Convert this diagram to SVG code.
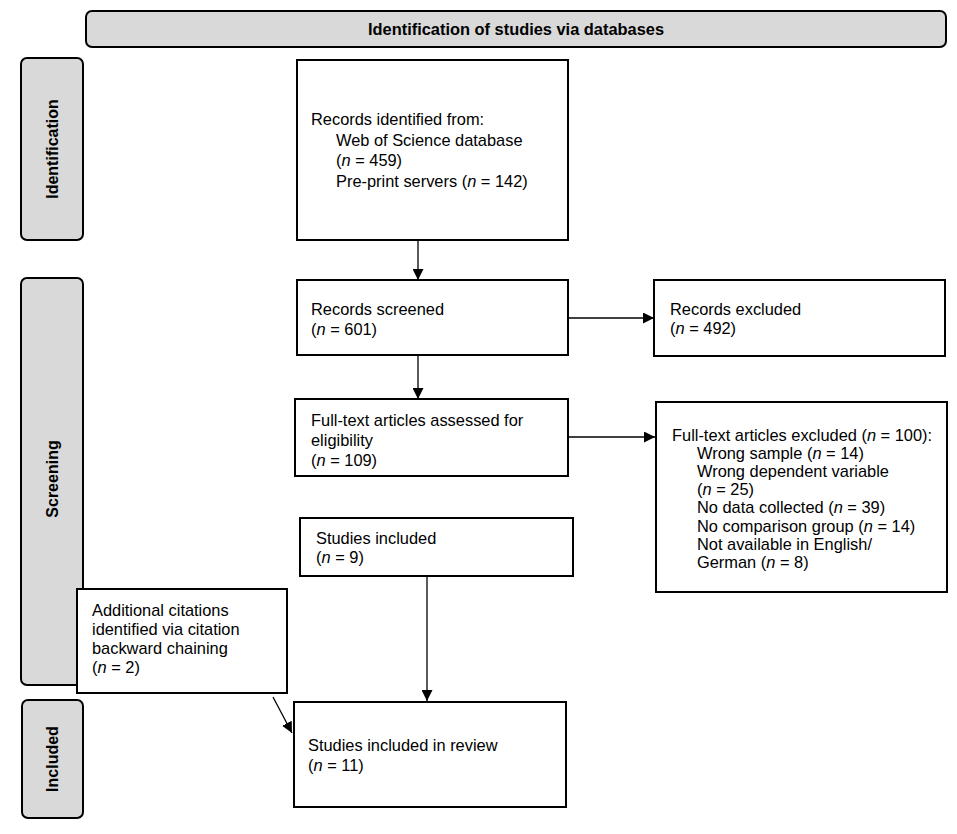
<svg xmlns="http://www.w3.org/2000/svg" width="957" height="834" viewBox="0 0 957 834">
<style>
.box{fill:#fff;stroke:#000;stroke-width:2}
.lane{fill:#d9d9d9;stroke:#000;stroke-width:2}
.t{font-family:"Liberation Sans",Arial,sans-serif;font-size:16.4px;fill:#000}
.h{font-family:"Liberation Sans",Arial,sans-serif;font-size:16px;font-weight:bold;fill:#000}
.c{stroke:#000;stroke-width:1.3;fill:none}
</style>
<defs>
<marker id="ah" viewBox="0 0 10 10" refX="10" refY="5" markerWidth="11" markerHeight="11" markerUnits="userSpaceOnUse" orient="auto">
<path d="M0,0 L10,5 L0,10 z" fill="#000"/>
</marker>
</defs>
<rect width="957" height="834" fill="#fff"/>
<g id="banner">
<rect class="lane" x="86" y="11" width="860" height="36" rx="6"/>
<text class="h" x="368" y="35" font-size="16.5" textLength="296" lengthAdjust="spacingAndGlyphs">Identification of studies via databases</text>
</g>
<g id="lane-identification">
<rect class="lane" x="21" y="58" width="62" height="182" rx="6"/>
<text class="h" transform="translate(58,149) rotate(-90)" text-anchor="middle">Identification</text>
</g>
<g id="lane-screening">
<rect class="lane" x="21" y="278" width="62" height="407" rx="6"/>
<text class="h" transform="translate(58,479) rotate(-90)" text-anchor="middle">Screening</text>
</g>
<g id="lane-included">
<rect class="lane" x="22" y="700" width="61" height="118" rx="6"/>
<text class="h" transform="translate(58,759) rotate(-90)" text-anchor="middle">Included</text>
</g>
<g id="connectors">
<line class="c" x1="418" y1="240" x2="418" y2="280" marker-end="url(#ah)"/>
<line class="c" x1="568" y1="318" x2="654" y2="318" marker-end="url(#ah)"/>
<line class="c" x1="418" y1="355" x2="418" y2="399" marker-end="url(#ah)"/>
<line class="c" x1="568" y1="437" x2="655" y2="437" marker-end="url(#ah)"/>
<line class="c" x1="427" y1="576" x2="427" y2="701" marker-end="url(#ah)"/>
<line class="c" x1="273" y1="697" x2="292" y2="733" marker-end="url(#ah)"/>
</g>
<g id="records-identified">
<rect class="box" x="297" y="60" width="271" height="180"/>
<text class="t"><tspan x="311" y="125">Records identified from:</tspan><tspan x="336" y="146">Web of Science database</tspan><tspan x="336" y="166">(<tspan font-style="italic">n</tspan> = 459)</tspan><tspan x="336" y="187">Pre-print servers (<tspan font-style="italic">n</tspan> = 142)</tspan></text>
</g>
<g id="records-screened">
<rect class="box" x="297" y="280" width="271" height="75"/>
<text class="t"><tspan x="311" y="315">Records screened</tspan><tspan x="311" y="335">(<tspan font-style="italic">n</tspan> = 601)</tspan></text>
</g>
<g id="records-excluded">
<rect class="box" x="654" y="280" width="291" height="76"/>
<text class="t"><tspan x="670" y="315">Records excluded</tspan><tspan x="670" y="334">(<tspan font-style="italic">n</tspan> = 492)</tspan></text>
</g>
<g id="fulltext-assessed">
<rect class="box" x="295" y="399" width="273" height="77"/>
<text class="t"><tspan x="311" y="426">Full-text articles assessed for</tspan><tspan x="311" y="446">eligibility</tspan><tspan x="311" y="466">(<tspan font-style="italic">n</tspan> = 109)</tspan></text>
</g>
<g id="fulltext-excluded">
<rect class="box" x="656" y="402" width="291" height="190"/>
<text class="t"><tspan x="672" y="441">Full-text articles excluded (<tspan font-style="italic">n</tspan> = 100):</tspan><tspan x="697" y="459">Wrong sample (<tspan font-style="italic">n</tspan> = 14)</tspan><tspan x="697" y="477">Wrong dependent variable</tspan><tspan x="697" y="495">(<tspan font-style="italic">n</tspan> = 25)</tspan><tspan x="697" y="513">No data collected (<tspan font-style="italic">n</tspan> = 39)</tspan><tspan x="697" y="532">No comparison group (<tspan font-style="italic">n</tspan> = 14)</tspan><tspan x="697" y="550">Not available in English/</tspan><tspan x="697" y="568">German (<tspan font-style="italic">n</tspan> = 8)</tspan></text>
</g>
<g id="studies-included">
<rect class="box" x="300" y="518" width="273" height="58"/>
<text class="t"><tspan x="316" y="544">Studies included</tspan><tspan x="316" y="563">(<tspan font-style="italic">n</tspan> = 9)</tspan></text>
</g>
<g id="additional-citations">
<rect class="box" x="77" y="589" width="210" height="104"/>
<text class="t"><tspan x="92" y="616">Additional citations</tspan><tspan x="92" y="635">identified via citation</tspan><tspan x="92" y="654">backward chaining</tspan><tspan x="92" y="673">(<tspan font-style="italic">n</tspan> = 2)</tspan></text>
</g>
<g id="studies-review">
<rect class="box" x="294" y="702" width="272" height="105"/>
<text class="t"><tspan x="308" y="751">Studies included in review</tspan><tspan x="308" y="771">(<tspan font-style="italic">n</tspan> = 11)</tspan></text>
</g>
</svg>
